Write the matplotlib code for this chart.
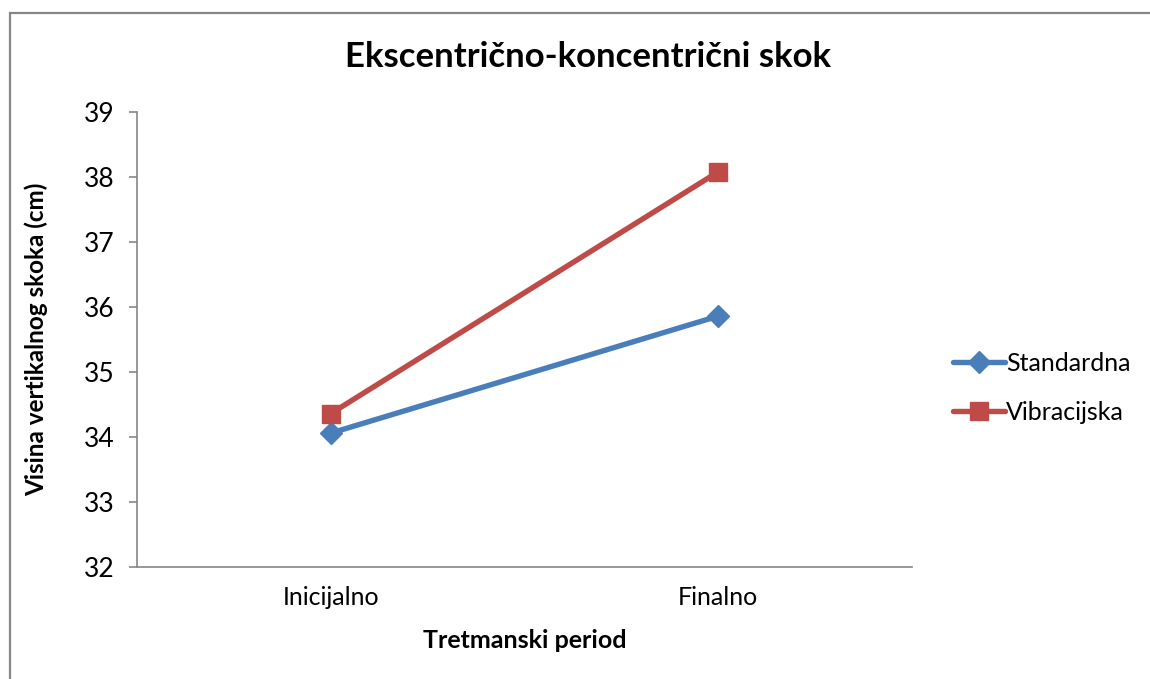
import matplotlib.pyplot as plt
from matplotlib.patches import Rectangle


CATEGORIES = ["Inicijalno", "Finalno"]
STANDARDNA = [34.06, 35.86]
VIBRACIJSKA = [34.36, 38.08]
Y_TICKS = [32, 33, 34, 35, 36, 37, 38, 39]

BLUE = "#4A7EBB"
RED = "#BE4B48"
GREY = "#868686"


def main():
	plt.rcParams["font.family"] = ["Lato", "DejaVu Sans"]

	fig = plt.figure(figsize=(11.5, 6.79), dpi=100)
	# okvir grafikona (desna i donja ivica izlaze van slike)
	fig.patches.append(Rectangle((10 / 1150, -0.1), 1.2, (679 - 13) / 679 + 0.1,
		transform=fig.transFigure, fill=False, edgecolor=GREY, linewidth=1.6))

	ax = fig.add_axes([137 / 1150, (679 - 567) / 679, 775 / 1150, 455 / 679])
	x_pos = list(range(len(CATEGORIES)))

	ax.plot(x_pos, STANDARDNA, color=BLUE, linewidth=3.9, marker="D", markersize=11,
		label="Standardna", solid_capstyle="round")
	ax.plot(x_pos, VIBRACIJSKA, color=RED, linewidth=3.9, marker="s", markersize=13,
		label="Vibracijska", solid_capstyle="round")

	ax.set_xlim(-0.5, 1.5)
	ax.set_ylim(32, 39)
	ax.set_yticks(Y_TICKS)
	ax.set_xticks(x_pos)
	ax.set_xticklabels(CATEGORIES, fontsize=18)
	ax.tick_params(axis="x", length=0, pad=14)
	ax.tick_params(axis="y", labelsize=19, length=6, width=1.2, color=GREY, pad=10)

	for side in ["top", "right"]:
		ax.spines[side].set_visible(False)
	for side in ["left", "bottom"]:
		ax.spines[side].set_color(GREY)
		ax.spines[side].set_linewidth(1.2)

	fig.text(588 / 1150, (679 - 57) / 679, "Ekscentrično-koncentrični skok",
		fontsize=25, fontweight="bold", ha="center", va="center")
	ax.set_xlabel("Tretmanski period", fontsize=18, fontweight="bold", labelpad=14)
	ax.set_ylabel("Visina vertikalnog skoka (cm)", fontsize=17.5, fontweight="bold", labelpad=26)

	fig.legend(loc="center left", bbox_to_anchor=(930 / 1150, (679 - 388) / 679),
		frameon=False, fontsize=18, handlelength=2.1, handletextpad=0.05, labelspacing=1.05)

	fig.savefig("out.png", dpi=100)


if __name__ == "__main__":
	main()
